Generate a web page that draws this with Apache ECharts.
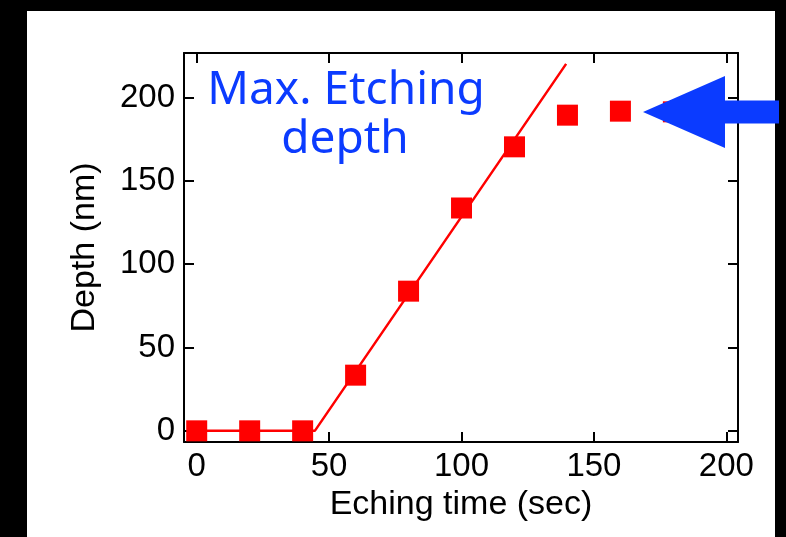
<!DOCTYPE html>
<html>
<head>
<meta charset="utf-8">
<script src="https://cdn.jsdelivr.net/npm/echarts@6/dist/echarts.min.js"></script>
<style>
  html, body { margin: 0; padding: 0; background: #000; }
  #chart { width: 786px; height: 537px; }
</style>
</head>
<body>
<div id="chart"></div>
<script>
// 测量数据
const times = [0, 20, 40, 60, 80, 100, 120, 140, 160, 180];
const depths = [0, 0, 0, 33.4, 83.8, 133.7, 170.4, 189.4, 191.8, 191.4];
// 拟合线
const fitTimes = [0, 44.6, 139.5];
const fitDepths = [0, 0, 220.2];
// 刻度
const xTicks = [0, 50, 100, 150, 200];
const yTicks = [0, 50, 100, 150, 200];
const note = ['Max. Etching', 'depth'];

const FONT = '"Liberation Sans", Arial, Helvetica, sans-serif';
const NOTE_FONT = '"Comic Sans MS", "Noto Sans", sans-serif';
const RED = '#ff0000';
const BLUE = '#0b3bff';

// 四边框线
const boxLine = { show: true, onZero: false, lineStyle: { color: '#000', width: 2 } };

function tick(values) {
  return { show: true, inside: true, length: 10, customValues: values, lineStyle: { color: '#000', width: 2 } };
}

function label(values, margin) {
  return { customValues: values, fontSize: 33, color: '#000', fontFamily: FONT, margin: margin };
}

const titleStyle = { fontSize: 34, color: '#000', fontFamily: FONT };

let chart = echarts.init(document.getElementById('chart'));

chart.setOption({
  backgroundColor: '#000',
  animation: false,
  grid: { left: 184, right: 48, top: 53, bottom: 95 },
  xAxis: [
    {
      type: 'value', min: -4.8, max: 204.4, position: 'bottom',
      axisLine: boxLine, axisTick: tick(xTicks), axisLabel: label(xTicks, 8),
      splitLine: { show: false },
      name: 'Eching time (sec)', nameLocation: 'middle', nameGap: 46, nameTextStyle: titleStyle
    },
    {
      type: 'value', min: -4.8, max: 204.4, position: 'top',
      axisLine: boxLine, axisTick: tick(xTicks), axisLabel: { show: false },
      splitLine: { show: false }
    }
  ],
  yAxis: [
    {
      type: 'value', min: -6.7, max: 226.7, position: 'left',
      axisLine: boxLine, axisTick: tick(yTicks), axisLabel: label(yTicks, 9),
      splitLine: { show: false },
      name: 'Depth (nm)', nameLocation: 'middle', nameGap: 82, nameTextStyle: titleStyle
    },
    {
      type: 'value', min: -6.7, max: 226.7, position: 'right',
      axisLine: boxLine, axisTick: tick(yTicks), axisLabel: { show: false },
      splitLine: { show: false }
    }
  ],
  series: [
    {
      type: 'line',
      data: fitTimes.map((t, i) => [t, fitDepths[i]]),
      showSymbol: false,
      lineStyle: { color: RED, width: 2.5 },
      z: 2
    },
    {
      type: 'scatter',
      data: times.map((t, i) => [t, depths[i]]),
      symbol: 'rect',
      symbolSize: 21,
      itemStyle: { color: RED, opacity: 1 },
      z: 3
    }
  ],
  graphic: [
    // 白色底板
    { type: 'rect', z: -10, shape: { x: 27, y: 11, width: 748, height: 530 }, style: { fill: '#fff' } },
    {
      type: 'text', x: 346, y: 91, z: 50,
      style: { text: note[0], fontSize: 46, fontFamily: NOTE_FONT, fill: BLUE,
        textAlign: 'center', textVerticalAlign: 'middle', align: 'center', verticalAlign: 'middle' }
    },
    {
      type: 'text', x: 345, y: 140, z: 50,
      style: { text: note[1], fontSize: 46, fontFamily: NOTE_FONT, fill: BLUE,
        textAlign: 'center', textVerticalAlign: 'middle', align: 'center', verticalAlign: 'middle' }
    },
    // 蓝色箭头
    {
      type: 'polygon', z: 100,
      shape: { points: [[643, 112], [725, 76], [725, 100.5], [779, 100.5], [779, 123.5], [725, 123.5], [725, 148]] },
      style: { fill: BLUE }
    }
  ]
});
</script>
</body>
</html>
